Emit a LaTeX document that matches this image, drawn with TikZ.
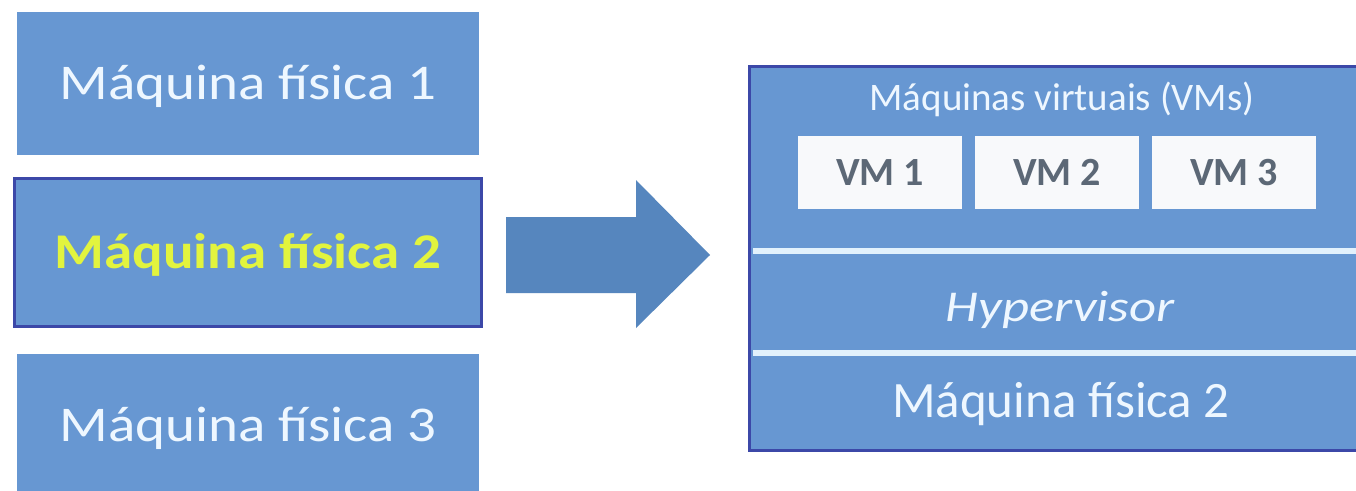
\documentclass[tikz,border=0pt]{standalone}
\usepackage{fontspec}
\setmainfont{Carlito}
\newfontfamily\widefont{Carlito}[FakeStretch=1.14]
\newfontfamily\hypfont{Carlito}[FakeStretch=1.2]
\definecolor{boxblue}{RGB}{103,151,210}
\definecolor{edgeblue}{RGB}{60,72,168}
\definecolor{arrowblue}{RGB}{86,134,190}
\definecolor{hiyellow}{RGB}{226,244,62}
\definecolor{paletext}{RGB}{238,247,255}
\definecolor{rulewhite}{RGB}{226,241,252}
\definecolor{vmgray}{RGB}{92,104,118}
\definecolor{vmfill}{RGB}{248,249,251}
\begin{document}
\begin{tikzpicture}[x=1pt,y=-1pt,
  capcentred/.style={text height=#1, text depth=0pt},
  machine/.style={fill=boxblue, draw=none, inner sep=0pt, capcentred=32pt,
    minimum width=462pt, minimum height=143pt, text=paletext,
    font=\widefont\fontsize{50}{56}\selectfont},
  chosen/.style={machine, draw=edgeblue, line width=3pt,
    minimum width=467pt, minimum height=148pt, text=hiyellow,
    font=\widefont\fontsize{50}{56}\selectfont\bfseries},
  host/.style={fill=boxblue, draw=edgeblue, line width=3pt, inner sep=0pt,
    minimum width=623pt, minimum height=384pt},
  vmbox/.style={fill=vmfill, draw=none, inner sep=0pt, capcentred=25.6pt,
    minimum width=164pt, minimum height=73pt, text=vmgray,
    font=\fontsize{40}{46}\selectfont\bfseries},
  layertext/.style={text=paletext, inner sep=0pt},
  layerrule/.style={draw=rulewhite, line width=6pt}]

% canvas
\path[use as bounding box, fill=white] (0,0) rectangle (1356,490);

% physical machines on the left
\node[machine] (m1) at (248,83) {Máquina física 1};
\node[chosen]  (m2) at (248,252.5) {Máquina física 2};
\node[machine] (m3) at (248,425) {Máquina física 3};

% virtualised host on the right
\node[host] (host) at (1060.5,258.5) {};
\coordinate (r1l) at (753,251);
\coordinate (r1r) at (1372,251);
\coordinate (r2l) at (753,353);
\coordinate (r2r) at (1372,353);
\draw[layerrule] (r1l) -- (r1r);
\draw[layerrule] (r2l) -- (r2r);

\node[layertext, capcentred=25pt, font=\fontsize{39}{44}\selectfont] (vmtitle) at (1062,97.5) {Máquinas virtuais (VMs)};
\node[vmbox] (vm1) at (880,172.5) {VM 1};
\node[vmbox] (vm2) at (1057,172.5) {VM 2};
\node[vmbox] (vm3) at (1234,172.5) {VM 3};
\node[layertext, capcentred=28.2pt, font=\hypfont\fontsize{44}{50}\selectfont\itshape] (hyp) at (1060,307) {Hypervisor};
\node[layertext, capcentred=32.6pt, font=\fontsize{51}{56}\selectfont] (phys) at (1061,401) {Máquina física 2};

% block arrow from machine 2 to the host
\coordinate (a0) at (506,217);
\coordinate (a1) at (636,217);
\coordinate (a2) at (636,180);
\coordinate (tip) at (710,255);
\coordinate (a4) at (636,328);
\coordinate (a5) at (636,293);
\coordinate (a6) at (506,293);
\fill[arrowblue] (a0) -- (a1) -- (a2) -- (tip) -- (a4) -- (a5) -- (a6) -- cycle;
\end{tikzpicture}
\end{document}
